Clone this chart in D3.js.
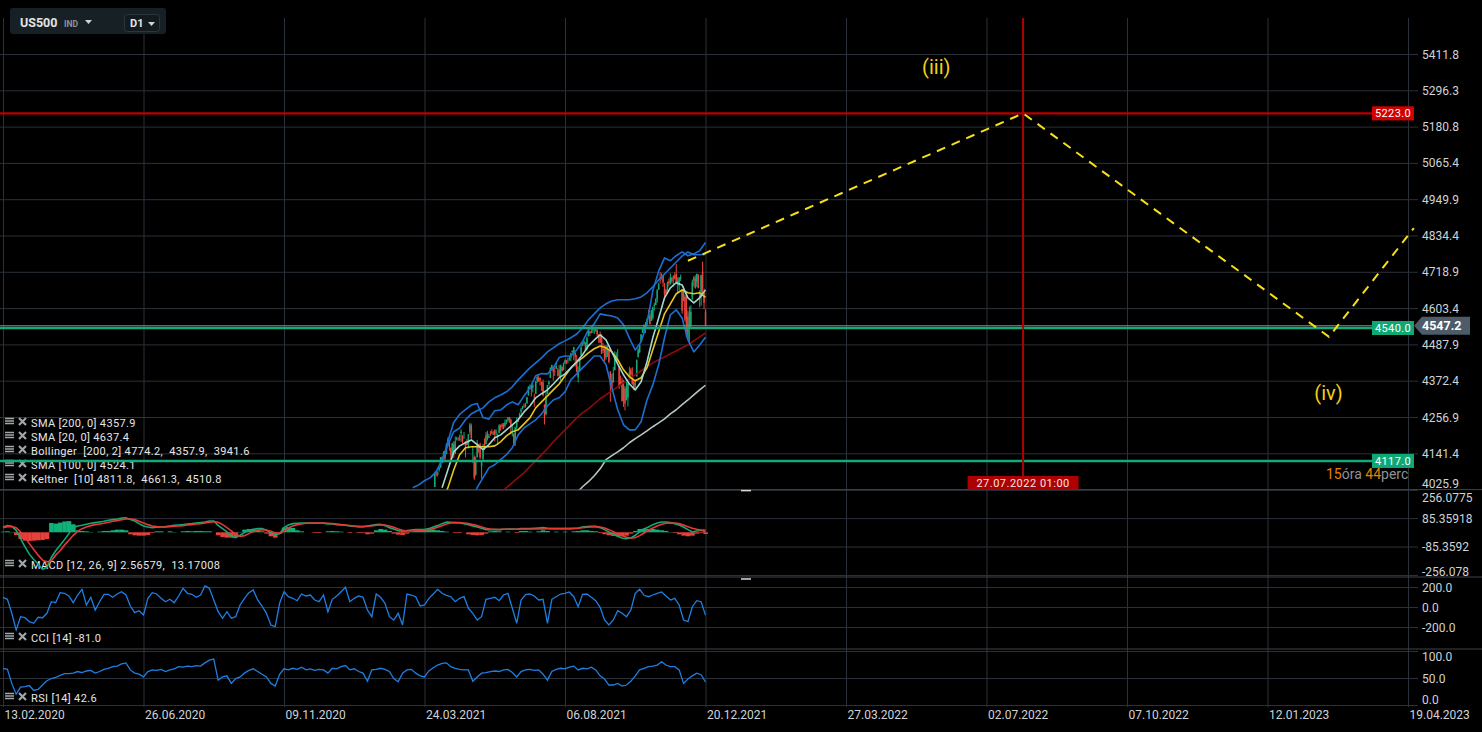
<!DOCTYPE html>
<html><head><meta charset="utf-8">
<script src="https://cdn.jsdelivr.net/npm/d3@7"></script>
<style>
html,body{margin:0;padding:0;background:#000;overflow:hidden}
svg{display:block;font-family:Roboto,"Noto Sans",sans-serif}
</style></head><body>
<svg id="c" width="1482" height="732"></svg>
<script>
// ---------------- DATA ----------------
const dateTickIdx = [0,96,192,288,384,480,576,672,768,864,960];
const dateTickLabels = ["13.02.2020","26.06.2020","09.11.2020","24.03.2021","06.08.2021","20.12.2021","27.03.2022","02.07.2022","07.10.2022","12.01.2023","19.04.2023"];
const priceTicks = [5411.8,5296.3,5180.8,5065.4,4949.9,4834.4,4718.9,4603.4,4487.9,4372.4,4256.9,4141.4,4025.9];
const priceTickLabels = ["5411.8","5296.3","5180.8","5065.4","4949.9","4834.4","4718.9","4603.4","4487.9","4372.4","4256.9","4141.4","4025.9"];
const macdTicks = [256.0775,85.35918,-85.3592,-256.078];
const macdTickLabels = ["256.0775","85.35918","-85.3592","-256.078"];
const cciTicks = [200,0,-200];
const cciTickLabels = ["200.0","0.0","-200.0"];
const rsiTicks = [100,50,0];
const rsiTickLabels = ["100.0","50.0","0.0"];

const candleStart = 288;
const candleOpen = [
3919,3879,3917,3969,3963,3967,3992,4034,4075,4075,
4089,4096,4124,4130,4141,4140,4175,4179,4159,4128,
4170,4139,4185,4188,4186,4206,4198,4191,4179,4178,
4170,4210,4228,4152,4130,4074,4129,4169,4169,4099,
4122,4168,4170,4205,4191,4202,4210,4204,4216,4207,
4191,4207,4229,4233,4232,4229,4243,4248,4256,4248,
4220,4204,4174,4224,4249,4256,4274,4285,4293,4290,
4300,4326,4352,4356,4351,4321,4330,4372,4381,4381,
4369,4367,4296,4266,4331,4362,4381,4409,4416,4402,
4411,4395,4407,4392,4416,4406,4429,4438,4435,4442,
4446,4464,4461,4462,4440,4383,4406,4454,4484,4490,
4493,4474,4514,4529,4529,4534,4532,4535,4535,4518,
4513,4506,4474,4480,4447,4477,4469,4402,4374,4367,
4406,4438,4442,4419,4368,4370,4317,4348,4310,4319,
4384,4407,4385,4368,4358,4386,4447,4464,4497,4524,
4532,4547,4553,4578,4580,4562,4573,4610,4613,4631,
4662,4700,4702,4707,4670,4660,4655,4689,4679,4701,
4700,4708,4712,4679,4675,4701,4664,4628,4640,4602,
4504,4589,4548,4631,4691,4698,4687,4710,4642,4637,
4719,4652,4590];
const candleHigh = [
3942,3919,3978,3981,3968,3994,4021,4083,4086,4084,
4098,4129,4131,4148,4151,4174,4192,4180,4160,4175,
4180,4195,4194,4193,4201,4218,4198,4209,4180,4187,
4202,4238,4236,4163,4135,4131,4184,4171,4175,4117,
4172,4189,4209,4213,4203,4213,4218,4212,4217,4217,
4204,4234,4233,4237,4238,4249,4249,4256,4257,4252,
4233,4204,4226,4255,4256,4271,4286,4292,4300,4302,
4321,4355,4360,4359,4361,4331,4372,4386,4393,4383,
4369,4376,4297,4336,4359,4373,4415,4423,4416,4415,
4430,4412,4422,4423,4418,4430,4440,4439,4446,4449,
4461,4468,4480,4462,4455,4418,4442,4489,4492,4501,
4495,4513,4538,4532,4537,4545,4541,4540,4535,4521,
4529,4520,4492,4485,4486,4485,4471,4402,4394,4416,
4466,4463,4473,4419,4389,4382,4375,4355,4369,4365,
4417,4413,4415,4374,4373,4440,4476,4487,4520,4540,
4552,4559,4572,4598,4585,4598,4608,4620,4635,4664,
4683,4718,4714,4708,4684,4664,4688,4697,4714,4701,
4708,4717,4744,4701,4702,4710,4664,4673,4646,4652,
4595,4608,4612,4694,4705,4708,4713,4711,4660,4709,
4751,4666,4600];
const candleLow = [
3889,3853,3917,3944,3944,3964,3992,4034,4068,4068,
4083,4095,4114,4124,4120,4139,4171,4150,4118,4127,
4126,4139,4182,4181,4181,4177,4174,4188,4128,4167,
4157,4201,4188,4111,4057,4069,4129,4143,4123,4061,
4122,4152,4170,4182,4190,4197,4203,4200,4179,4198,
4168,4206,4213,4218,4218,4224,4234,4240,4238,4203,
4195,4164,4165,4217,4240,4255,4267,4281,4286,4287,
4300,4325,4348,4322,4335,4289,4330,4365,4369,4357,
4340,4322,4233,4262,4331,4356,4381,4406,4373,4387,
4409,4386,4384,4373,4401,4406,4426,4425,4427,4436,
4435,4460,4437,4417,4399,4367,4404,4450,4482,4485,
4468,4468,4513,4515,4523,4524,4521,4528,4513,4493,
4493,4457,4460,4435,4439,4448,4427,4305,4347,4367,
4406,4429,4437,4346,4355,4306,4289,4278,4310,4290,
4384,4385,4360,4342,4348,4386,4447,4460,4496,4524,
4527,4524,4546,4570,4551,4562,4567,4595,4613,4621,
4662,4681,4694,4671,4630,4648,4651,4672,4679,4684,
4672,4694,4680,4652,4660,4690,4585,4625,4560,4510,
4504,4495,4540,4631,4672,4665,4671,4666,4606,4611,
4651,4600,4547];
const candleClose = [
3889,3910,3975,3971,3959,3973,4020,4078,4074,4080,
4097,4129,4128,4142,4125,4170,4185,4163,4135,4173,
4135,4180,4188,4187,4184,4211,4181,4192,4165,4168,
4202,4233,4189,4153,4063,4113,4174,4164,4128,4116,
4160,4156,4198,4188,4196,4201,4204,4204,4202,4208,
4192,4230,4226,4227,4220,4239,4247,4255,4246,4224,
4222,4166,4224,4246,4242,4266,4281,4291,4291,4297,
4320,4352,4352,4344,4358,4320,4370,4385,4369,4374,
4360,4327,4258,4323,4359,4368,4412,4422,4401,4400,
4419,4395,4387,4423,4403,4429,4437,4432,4436,4442,
4460,4468,4479,4449,4400,4406,4441,4479,4486,4496,
4470,4509,4529,4523,4524,4537,4535,4535,4520,4514,
4493,4459,4468,4443,4481,4473,4433,4358,4354,4396,
4449,4455,4443,4353,4360,4308,4357,4300,4346,4363,
4399,4391,4361,4350,4364,4438,4471,4486,4520,4537,
4549,4545,4567,4575,4552,4596,4605,4614,4631,4660,
4680,4697,4702,4685,4646,4649,4683,4683,4701,4689,
4704,4698,4682,4691,4701,4701,4595,4655,4567,4513,
4577,4538,4592,4686,4701,4667,4712,4668,4635,4709,
4668,4620,4547];

// main-panel indicator lines, sampled every 4 bars
const lineStep = 4;
const bbUpperStart = 280;
const bbUpper = [4032,4041,4054,4064,4083,4121,4168,4210,4222,4248,4267,4277,4286,4305,4318,4327,4337,4353,4375,4394,4413,4429,4445,4464,4477,4490,4499,4509,4521,4540,4566,4585,4604,4617,4626,4630,4630,4630,4633,4639,4652,4671,4693,4712,4731,4750,4769,4782,4773,4773,4774.2];
const keltUpStart = 300;
const keltUp = [4110,4180,4240,4265,4280,4295,4300,4255,4250,4277,4279,4295,4305,4296,4324,4349,4388,4395,4394,4413,4446,4451,4451,4470,4497,4534,4553,4585,4581,4578,4572,4550,4508,4470,4496,4553,4659,4721,4763,4754,4770,4782,4770,4776,4786,4811.8];
const keltMidStart = 300;
const keltMid = [4032,4089,4146,4165,4175,4184,4169,4153,4169,4191,4200,4216,4232,4248,4273,4292,4318,4331,4343,4362,4382,4394,4413,4432,4455,4483,4502,4518,4502,4464,4426,4391,4362,4343,4369,4432,4509,4572,4636,4668,4684,4677,4636,4620,4636,4661.3];
const keltLowStart = 320;
const keltLow = [3990,4032,4064,4095,4105,4121,4137,4159,4200,4222,4235,4248,4267,4292,4311,4318,4337,4375,4394,4413,4432,4451,4451,4423,4350,4280,4232,4216,4216,4242,4311,4359,4423,4509,4582,4598,4572,4502,4464,4486,4510.8];
const sma20Start = 300;
const sma20 = [3990,4032,4089,4137,4159,4162,4162,4162,4162,4165,4178,4197,4210,4216,4235,4254,4286,4305,4324,4343,4362,4388,4413,4432,4445,4461,4474,4483,4477,4464,4439,4407,4385,4372,4382,4413,4471,4528,4585,4617,4649,4661,4652,4649,4652,4637.4];
const sma100Start = 340;
const sma100 = [4015,4032,4048,4064,4079,4099,4118,4137,4156,4178,4197,4216,4235,4254,4270,4283,4299,4315,4327,4340,4353,4366,4378,4391,4404,4417,4429,4439,4448,4458,4467,4477,4486,4499,4512,4524.1];
const sma200Start = 392;
const sma200 = [4015,4035,4051,4070,4092,4121,4134,4146,4159,4175,4188,4200,4213,4226,4238,4251,4267,4280,4296,4311,4327,4343,4357.9];

// lower panels, sampled every 3 bars from bar 0
const oscStep = 3;
const cci = [97,77,-63,-230,-97,-107,-147,-163,-103,-107,
-63,53,43,143,137,110,43,120,177,20,
97,-30,53,127,127,97,130,153,120,10,
-57,-37,-80,87,143,130,87,53,77,43,
110,187,137,127,97,120,210,187,70,-47,
-113,-47,-113,-97,20,87,143,170,70,10,
-63,-180,-197,37,153,103,87,63,130,110,
120,70,53,120,-47,77,110,153,197,53,
87,110,97,-30,-97,130,97,37,-97,-130,
-63,-180,130,120,103,10,20,87,130,177,
137,117,103,53,87,103,-13,-63,-130,-97,
77,87,97,63,120,137,-13,-163,70,123,
130,110,70,77,-163,77,103,130,137,150,
103,3,127,130,97,63,-3,-130,-180,-130,
-37,-63,-97,-30,137,177,117,103,120,137,
150,110,70,87,20,-130,-147,3,63,53,-81];
const rsi = [68,66,40,20,33,34,36,27,29,37,
45,49,51,55,58,58,59,62,60,63,
64,59,62,66,68,71,72,76,78,65,
59,57,52,62,65,64,66,62,65,67,
71,70,72,71,73,72,78,83,85,46,
52,54,40,49,52,59,64,67,62,57,
52,40,35,57,67,65,68,66,70,65,
67,64,66,65,59,68,67,71,73,65,
67,62,59,44,65,66,68,66,62,49,
43,59,65,66,59,54,52,63,69,74,
77,78,71,68,66,65,65,44,52,59,
60,62,63,62,65,66,60,52,62,65,
66,64,65,57,46,62,66,68,67,70,
72,65,68,67,70,65,54,48,37,37,
40,35,37,44,54,65,68,71,72,74,
80,74,71,71,65,40,48,54,59,56,42.6];
const macdLine = [32,40,36,12,-38,-87,-131,-163,-190,-222,
-210,-151,-111,-77,-44,-8,28,38,42,48,
54,58,62,66,72,76,80,85,87,77,
68,52,38,32,28,30,32,34,38,42,
44,46,50,52,56,58,62,68,68,42,
22,2,-24,-32,-18,-2,12,18,22,22,
12,-2,-14,-8,28,44,52,54,56,56,
56,56,56,54,50,50,46,44,42,38,
36,32,34,38,42,46,48,40,28,20,
10,6,10,14,16,16,16,22,32,40,
52,62,60,58,56,52,46,38,32,24,
16,16,16,16,18,20,20,18,22,22,
22,24,26,28,24,22,22,22,22,22,
24,26,32,34,36,36,28,16,2,-12,
-24,-34,-38,-34,-18,2,20,32,46,56,
62,62,58,52,44,32,16,2,8,12,2.57];
const macdSignal = [28,34,34,28,2,-32,-68,-103,-137,-167,
-177,-171,-137,-111,-77,-48,-18,6,22,32,
40,46,50,54,60,66,70,76,80,80,
76,66,56,46,38,34,32,32,34,36,
38,40,44,46,50,52,56,60,64,60,
46,28,8,-12,-24,-20,-8,4,12,16,
14,6,-4,-8,8,26,38,46,50,54,
56,56,56,56,54,52,50,46,44,40,
38,36,34,36,38,42,44,44,38,30,
20,12,8,8,10,12,14,16,22,30,
40,50,56,58,58,56,52,46,40,32,
24,20,18,16,18,18,18,18,20,20,
20,20,20,20,22,22,22,22,22,22,
22,24,28,30,32,34,32,26,16,4,
-8,-20,-30,-34,-32,-20,-4,12,26,38,
48,54,56,56,52,44,34,24,18,14,13.17];
const macdHist = [4,6,2,-16,-40,-50,-52,-50,-48,-46,
-40,56,52,58,65,67,48,12,8,6,
2,0,4,8,8,12,16,16,12,-12,
-18,-20,-20,-16,-4,6,6,0,6,2,
0,6,8,6,8,8,6,6,0,-18,
-28,-32,-32,-28,2,16,20,20,16,6,
-8,-24,-32,-8,28,32,26,12,6,0,
0,-4,-4,0,6,8,6,4,0,-4,
0,-4,-4,-12,-8,12,20,16,8,-8,
-14,-16,-8,4,16,18,20,18,16,12,
8,4,0,-4,-4,0,-12,-16,-18,-16,
-8,6,8,6,0,4,0,-4,8,8,
4,0,6,12,8,0,4,0,4,0,
6,8,12,12,8,6,-4,-12,-18,-22,
-24,-24,-20,-8,8,20,22,20,20,16,
12,8,2,-4,-12,-20,-24,-20,-8,-4,-10.6];

// levels, markers, projection
const levelValues = [5223.0, 4540.0, 4117.0];
const levelLabels = ["5223.0", "4540.0", "4117.0"];
const currentPrice = 4547.2;
const currentPriceLabel = "4547.2";
const markerIdx = 697;
const markerLabel = "27.07.2022 01:00";
const waveIdx = [468, 697, 906, 964];
const waveVal = [4754, 5223, 4512, 4858];
const waveLabels = ["(iii)", "(iv)"];
const waveLabelIdx = [628, 896];
const waveLabelVal = [5348, 4312];

const legendMain = ["SMA [200, 0] 4357.9","SMA [20, 0] 4637.4","Bollinger  [200, 2] 4774.2,  4357.9,  3941.6","SMA [100, 0] 4524.1","Keltner  [10] 4811.8,  4661.3,  4510.8"];
const legendMacd = "MACD [12, 26, 9] 2.56579,  13.17008";
const legendCci = "CCI [14] -81.0";
const legendRsi = "RSI [14] 42.6";

// ---------------- DRAW ----------------
const W = 1482, H = 732;
const PLOT_R = 1408;
const P = {mainTop:18, mainBot:489.6, macdBot:577, cciBot:649, rsiBot:705};
const svg = d3.select('#c');
svg.append('rect').attr('width', W).attr('height', H).attr('fill', '#000');

const x  = d3.scaleLinear().domain([0, 960]).range([3, PLOT_R]);
const yP = d3.scaleLinear().domain([4025.9, 5411.8]).range([P.mainBot, 54]);
const yM = d3.scaleLinear().domain([-256.078, 256.0775]).range([575, P.mainBot]);
const yC = d3.scaleLinear().domain([-200, 200]).range([627, 587]);
const yR = d3.scaleLinear().domain([0, 100]).range([705, 651]);

const defs = svg.append('defs');
function clip(id, y0, y1, x1) {
  defs.append('clipPath').attr('id', id).append('rect')
    .attr('x', 0).attr('y', y0).attr('width', x1).attr('height', y1 - y0);
}
clip('cMain', P.mainTop, P.mainBot, PLOT_R);
clip('cMacd', P.mainBot, P.macdBot, PLOT_R);
clip('cCci', P.macdBot, P.cciBot, PLOT_R);
clip('cRsi', P.cciBot, P.rsiBot, PLOT_R);

const GRID = '#2b3139', AXTXT = '#cfd3d8';

// bottom date axis with vertical grid lines
const gx = svg.append('g').attr('transform', `translate(0,${P.rsiBot})`)
  .call(d3.axisBottom(x).tickValues(dateTickIdx).tickFormat((d, i) => dateTickLabels[i])
    .tickSizeInner(-(P.rsiBot - P.mainTop)).tickSizeOuter(0).tickPadding(5));
gx.select('.domain').attr('stroke', GRID);
gx.selectAll('.tick line').attr('stroke', GRID).attr('y2', -(P.rsiBot - P.mainTop)).attr('y1', 2);
gx.selectAll('.tick text').attr('fill', AXTXT).attr('font-size', 12).attr('font-family', 'Roboto, sans-serif')
  .attr('text-anchor', 'start').attr('x', 1);

// right axes with horizontal grid lines
function rightAxis(scale, ticks, labels, top, bottom) {
  const g = svg.append('g').attr('transform', 'translate(1418,0)')
    .call(d3.axisRight(scale).tickValues(ticks).tickFormat((d, i) => labels[i])
      .tickSizeInner(-1418).tickSizeOuter(0).tickPadding(4));
  g.select('.domain').remove();
  g.selectAll('.tick line').attr('stroke', GRID);
  g.selectAll('.tick text').attr('fill', AXTXT).attr('font-size', 12).attr('font-family', 'Roboto, sans-serif')
    .attr('dy', d => {
      const y = scale(d);
      if (y < top + 7) return (top + 7.5 - y + 4) + 'px';
      if (y > bottom - 5) return (bottom - 6 - y + 4) + 'px';
      return '0.34em';
    });
  return g;
}
rightAxis(yP, priceTicks, priceTickLabels, P.mainTop, P.mainBot);
rightAxis(yM, macdTicks, macdTickLabels, P.mainBot, P.macdBot);
rightAxis(yC, cciTicks, cciTickLabels, P.macdBot, P.cciBot);
rightAxis(yR, rsiTicks, rsiTickLabels, P.cciBot, P.rsiBot);

// panel separators
svg.append('g').selectAll('line').data([P.mainBot, P.macdBot, P.cciBot]).join('line')
  .attr('x1', 0).attr('x2', W).attr('y1', d => d).attr('y2', d => d)
  .attr('stroke', '#3d444c').attr('stroke-width', 1);
// resize handles
svg.append('g').selectAll('line').data([P.mainBot + 1, P.macdBot + 2]).join('line')
  .attr('x1', 741).attr('x2', 751).attr('y1', d => d).attr('y2', d => d)
  .attr('stroke', '#d8d8d8').attr('stroke-width', 1.5);

// ---- main panel ----
const main = svg.append('g').attr('clip-path', 'url(#cMain)');
const series = (start, step, arr) => arr.map((v, k) => ({i: start + k * step, v}));
const lineP = d3.line().x(d => x(d.i)).y(d => yP(d.v));

const candles = candleClose.map((c, k) => ({i: candleStart + k, o: candleOpen[k], h: candleHigh[k], l: candleLow[k], c}));
const GREEN = '#12a877', RED = '#e8443a';
main.append('g').selectAll('line').data(candles).join('line')
  .attr('x1', d => x(d.i)).attr('x2', d => x(d.i))
  .attr('y1', d => yP(d.h)).attr('y2', d => yP(d.l))
  .attr('stroke', d => d.c >= d.o ? GREEN : RED).attr('stroke-width', 1);
main.append('g').selectAll('line').data(candles).join('line')
  .attr('x1', d => x(d.i)).attr('x2', d => x(d.i))
  .attr('y1', d => yP(d.o)).attr('y2', d => yP(d.c) + (Math.abs(d.c - d.o) < 1 ? 1 : 0))
  .attr('stroke', d => d.c >= d.o ? GREEN : RED).attr('stroke-width', 1.5);

const drawP = (data, color, w) => main.append('path').attr('d', lineP(data))
  .attr('fill', 'none').attr('stroke', color).attr('stroke-width', w).attr('stroke-linejoin', 'round');
drawP(series(sma200Start, lineStep, sma200), '#b4c6bd', 1.6);
drawP(series(sma100Start, lineStep, sma100), '#8e0b0b', 1.6);
drawP(series(bbUpperStart, lineStep, bbUpper), '#1b6fd2', 1.6);
drawP(series(keltUpStart, lineStep, keltUp), '#1b6fd2', 1.6);
drawP(series(keltLowStart, lineStep, keltLow), '#1b6fd2', 1.6);
drawP(series(sma20Start, lineStep, sma20), '#e8c51d', 1.6);
drawP(series(keltMidStart, lineStep, keltMid), '#a2d9cf', 1.6);

// legend
function legendIcon(g, b) {
  [8.5, 6, 3.5].forEach(o => g.append('rect').attr('x', 5).attr('y', b - o - 0.75).attr('width', 9).attr('height', 1.5).attr('fill', '#a0a6aa'));
  g.append('path').attr('d', `M19,${b - 9} L26,${b - 2} M26,${b - 9} L19,${b - 2}`).attr('stroke', '#a0a6aa').attr('stroke-width', 2.2);
}
const legG = svg.append('g');
legendMain.forEach((t, k) => {
  const b = 427 + k * 14;
  legendIcon(legG, b);
  legG.append('text').attr('x', 31).attr('y', b).text(t)
    .attr('fill', '#e6e6e6').attr('font-size', 11).attr('letter-spacing', 0.35).style('white-space', 'pre');
});
[[legendMacd, 569], [legendCci, 642], [legendRsi, 702]].forEach(([t, b]) => {
  legendIcon(legG, b);
  legG.append('text').attr('x', 31).attr('y', b).text(t)
    .attr('fill', '#e6e6e6').attr('font-size', 11).attr('letter-spacing', 0.35).style('white-space', 'pre');
});

// current price line
svg.append('line').attr('x1', 0).attr('x2', 1414).attr('y1', yP(currentPrice)).attr('y2', yP(currentPrice))
  .attr('stroke', '#7f8c97').attr('stroke-width', 1);

// horizontal levels
const levelColors = ['#b80000', '#13a97a', '#13a97a'];
const levelBoxColors = ['#d40000', '#0fa874', '#0fa874'];
levelValues.forEach((v, k) => {
  const y = yP(v);
  svg.append('line').attr('x1', 0).attr('x2', 1372).attr('y1', y).attr('y2', y)
    .attr('stroke', levelColors[k]).attr('stroke-width', k === 0 ? 2.2 : 2.6);
  svg.append('rect').attr('x', 1372).attr('y', y - 7).attr('width', 42).attr('height', 14).attr('fill', levelBoxColors[k]);
  svg.append('text').attr('x', 1393).attr('y', y + 4).attr('text-anchor', 'middle').text(levelLabels[k])
    .attr('fill', '#fff').attr('font-size', 11).attr('letter-spacing', 0.4);
});

// current price tag
{
  const y = yP(currentPrice);
  svg.append('path').attr('d', `M1414,${y} L1422,${y - 9} L1470,${y - 9} L1470,${y + 9} L1422,${y + 9} Z`).attr('fill', '#4d5c68');
  svg.append('text').attr('x', 1422).attr('y', y + 4.5).text(currentPriceLabel)
    .attr('fill', '#fff').attr('font-size', 12.5).attr('font-weight', 'bold');
}

// vertical marker
{
  const mx = x(markerIdx);
  svg.append('line').attr('x1', mx).attr('x2', mx).attr('y1', P.mainTop).attr('y2', 476)
    .attr('stroke', '#b50000').attr('stroke-width', 2);
  svg.append('rect').attr('x', mx - 55.5).attr('y', 476).attr('width', 111).attr('height', 13.5).attr('fill', '#ad0000');
  svg.append('text').attr('x', mx).attr('y', 486.5).attr('text-anchor', 'middle').text(markerLabel)
    .attr('fill', '#f2e6e6').attr('font-size', 11).attr('letter-spacing', 0.5);
}

// countdown
svg.append('text').attr('x', 1326).attr('y', 479).attr('font-size', 14)
  .call(t => {
    t.append('tspan').text('15').attr('fill', '#e38400');
    t.append('tspan').text('óra ').attr('fill', '#8d9296');
    t.append('tspan').text('44').attr('fill', '#e38400');
    t.append('tspan').text('perc').attr('fill', '#8d9296');
  });

// ---- MACD ----
const macdG = svg.append('g').attr('clip-path', 'url(#cMacd)');
const bw = x(oscStep) - x(0);
macdG.append('g').selectAll('rect').data(macdHist.map((v, k) => ({i: k * oscStep, v}))).join('rect')
  .attr('x', d => x(d.i) - bw / 2).attr('width', bw + 0.2)
  .attr('y', d => Math.min(yM(d.v), yM(0))).attr('height', d => Math.abs(yM(d.v) - yM(0)))
  .attr('fill', d => d.v >= 0 ? '#10b27a' : '#e8403a');
const lineM = d3.line().x(d => x(d.i)).y(d => yM(d.v));
macdG.append('path').attr('d', lineM(series(0, oscStep, macdLine))).attr('fill', 'none').attr('stroke', '#13a876').attr('stroke-width', 1.6);
macdG.append('path').attr('d', lineM(series(0, oscStep, macdSignal))).attr('fill', 'none').attr('stroke', '#e53a33').attr('stroke-width', 1.6);

// ---- CCI ----
const lineC = d3.line().x(d => x(d.i)).y(d => yC(d.v));
svg.append('g').attr('clip-path', 'url(#cCci)').append('path').attr('d', lineC(series(0, oscStep, cci)))
  .attr('fill', 'none').attr('stroke', '#1e7fe3').attr('stroke-width', 1.3);

// ---- RSI ----
const lineR = d3.line().x(d => x(d.i)).y(d => yR(d.v));
svg.append('g').attr('clip-path', 'url(#cRsi)').append('path').attr('d', lineR(series(0, oscStep, rsi)))
  .attr('fill', 'none').attr('stroke', '#1e7fe3').attr('stroke-width', 1.3);

// ---- projection ----
const wave = waveIdx.map((i, k) => ({i, v: waveVal[k]}));
svg.append('path').attr('d', lineP(wave)).attr('fill', 'none').attr('stroke', '#f7e01a')
  .attr('stroke-width', 2).attr('stroke-dasharray', '9,7');
waveLabels.forEach((t, k) => {
  svg.append('text').attr('x', x(waveLabelIdx[k])).attr('y', yP(waveLabelVal[k])).text(t)
    .attr('fill', '#f3cf18').attr('font-size', 20);
});

// ---- header ----
const hd = svg.append('g');
hd.append('rect').attr('x', 10).attr('y', 8).attr('width', 156).attr('height', 26).attr('rx', 3).attr('fill', '#172125');
hd.append('text').attr('x', 20).attr('y', 27).text('US500').attr('fill', '#e2e4e6').attr('font-size', 12.5).attr('font-weight', 'bold');
hd.append('text').attr('x', 64).attr('y', 27).text('IND').attr('fill', '#8b9397').attr('font-size', 8.5).attr('font-weight', 'bold');
hd.append('path').attr('d', 'M85,20 L92,20 L88.5,24 Z').attr('fill', '#d0d4d6');
hd.append('rect').attr('x', 124.5).attr('y', 14.5).attr('width', 35).attr('height', 17).attr('rx', 3).attr('fill', '#131b1e').attr('stroke', '#2c373b');
hd.append('text').attr('x', 130).attr('y', 27).text('D1').attr('fill', '#e2e4e6').attr('font-size', 11).attr('font-weight', 'bold');
hd.append('path').attr('d', 'M148,22 L155,22 L151.5,26 Z').attr('fill', '#d0d4d6');
</script>
</body></html>
